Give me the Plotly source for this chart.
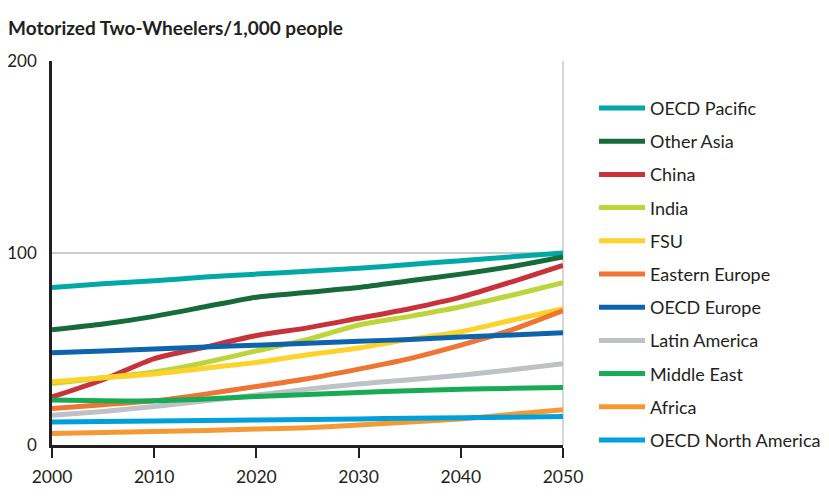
import plotly.graph_objects as go

years = [2000, 2005, 2010, 2015, 2020, 2025, 2030, 2035, 2040, 2045, 2050]

oecd_pacific = [82, 84, 85.5, 87.5, 89, 90.5, 92, 94, 96, 98, 100]
other_asia = [60, 63, 67, 72, 77, 79.5, 82, 85.5, 89, 93, 98]
china = [25, 34, 45, 51, 57, 61, 66, 71, 77, 85, 93.5]
india = [32, 35, 38, 43, 49, 55, 62.5, 67, 72, 78, 84.5]
fsu = [33, 35, 37, 40, 43, 47, 50.5, 55, 59, 65, 71]
eastern_europe = [19, 21, 23, 26.5, 30.5, 34.5, 39.5, 45, 52, 60, 70]
oecd_europe = [48, 49, 50, 51, 52, 53, 54, 55, 56.2, 57.3, 58.5]
latin_america = [15.5, 17.5, 20, 23, 26, 29, 31.8, 34, 36.3, 39.2, 42.3]
middle_east = [23.5, 23, 23, 24, 25.3, 26.3, 27.4, 28.2, 29, 29.5, 30]
africa = [6, 6.5, 7, 7.6, 8.3, 9, 10.4, 12, 13.6, 16, 18.3]
oecd_north_america = [12, 12.3, 12.5, 12.8, 13, 13.3, 13.6, 13.9, 14.2, 14.5, 14.8]

series_names = ["OECD Pacific", "Other Asia", "China", "India", "FSU", "Eastern Europe",
                "OECD Europe", "Latin America", "Middle East", "Africa", "OECD North America"]
series_values = [oecd_pacific, other_asia, china, india, fsu, eastern_europe,
                 oecd_europe, latin_america, middle_east, africa, oecd_north_america]
colors = ["#00a9a6", "#176b3a", "#c8323b", "#bdd53a", "#fdd22a", "#ee7534",
          "#0d64ad", "#bec1c6", "#18ab55", "#f39a35", "#00a0db"]

x_ticks = [2000, 2010, 2020, 2030, 2040, 2050]
y_ticks = [0, 100, 200]

fig = go.Figure()
for name, vals, col in zip(series_names, series_values, colors):
    fig.add_trace(go.Scatter(
        x=years, y=vals, name=name, mode="lines",
        line=dict(color=col, width=5, shape="spline", smoothing=0.6),
        legendgroup=name,
    ))

font_family = "Lato, 'Open Sans', 'Noto Sans', sans-serif"
fig.update_layout(
    width=821, height=493,
    margin=dict(l=44, r=266, t=53, b=56, autoexpand=False),
    paper_bgcolor="white", plot_bgcolor="white",
    font=dict(family=font_family, size=17.5, color="#231f20"),
    title=dict(text="<b>Motorized Two-Wheelers/1,000 people</b>", x=0.0, xanchor="left",
               y=0.959, yanchor="middle", pad=dict(l=0, r=0, t=0, b=0),
               font=dict(size=19, color="#231f20")),
    showlegend=True,
    legend=dict(x=1.0607, xanchor="left", y=0.925, yanchor="top",
                traceorder="grouped", tracegroupgap=6.8, itemwidth=46,
                font=dict(size=18, color="#231f20"), bgcolor="rgba(0,0,0,0)"),
    xaxis=dict(range=[2000, 2050], tickvals=x_ticks, showgrid=False, showline=True,
               linecolor="#231f20", linewidth=2.5, ticks="outside", ticklen=10,
               tickwidth=2, tickcolor="#231f20", zeroline=False, ticklabelstandoff=4,
               tickfont=dict(size=17.5, color="#231f20")),
    yaxis=dict(range=[0, 200], tickvals=y_ticks, showgrid=True, gridcolor="#c8cacd",
               gridwidth=1.5, showline=True, linecolor="#231f20", linewidth=2.5,
               ticks="", zeroline=False, ticklabelstandoff=9,
               tickfont=dict(size=17, color="#231f20")),
    shapes=[dict(type="line", xref="paper", yref="paper", x0=1, x1=1, y0=0, y1=1,
                 line=dict(color="#c8cacd", width=1.5), layer="below")],
)

fig.write_html("out.html")
